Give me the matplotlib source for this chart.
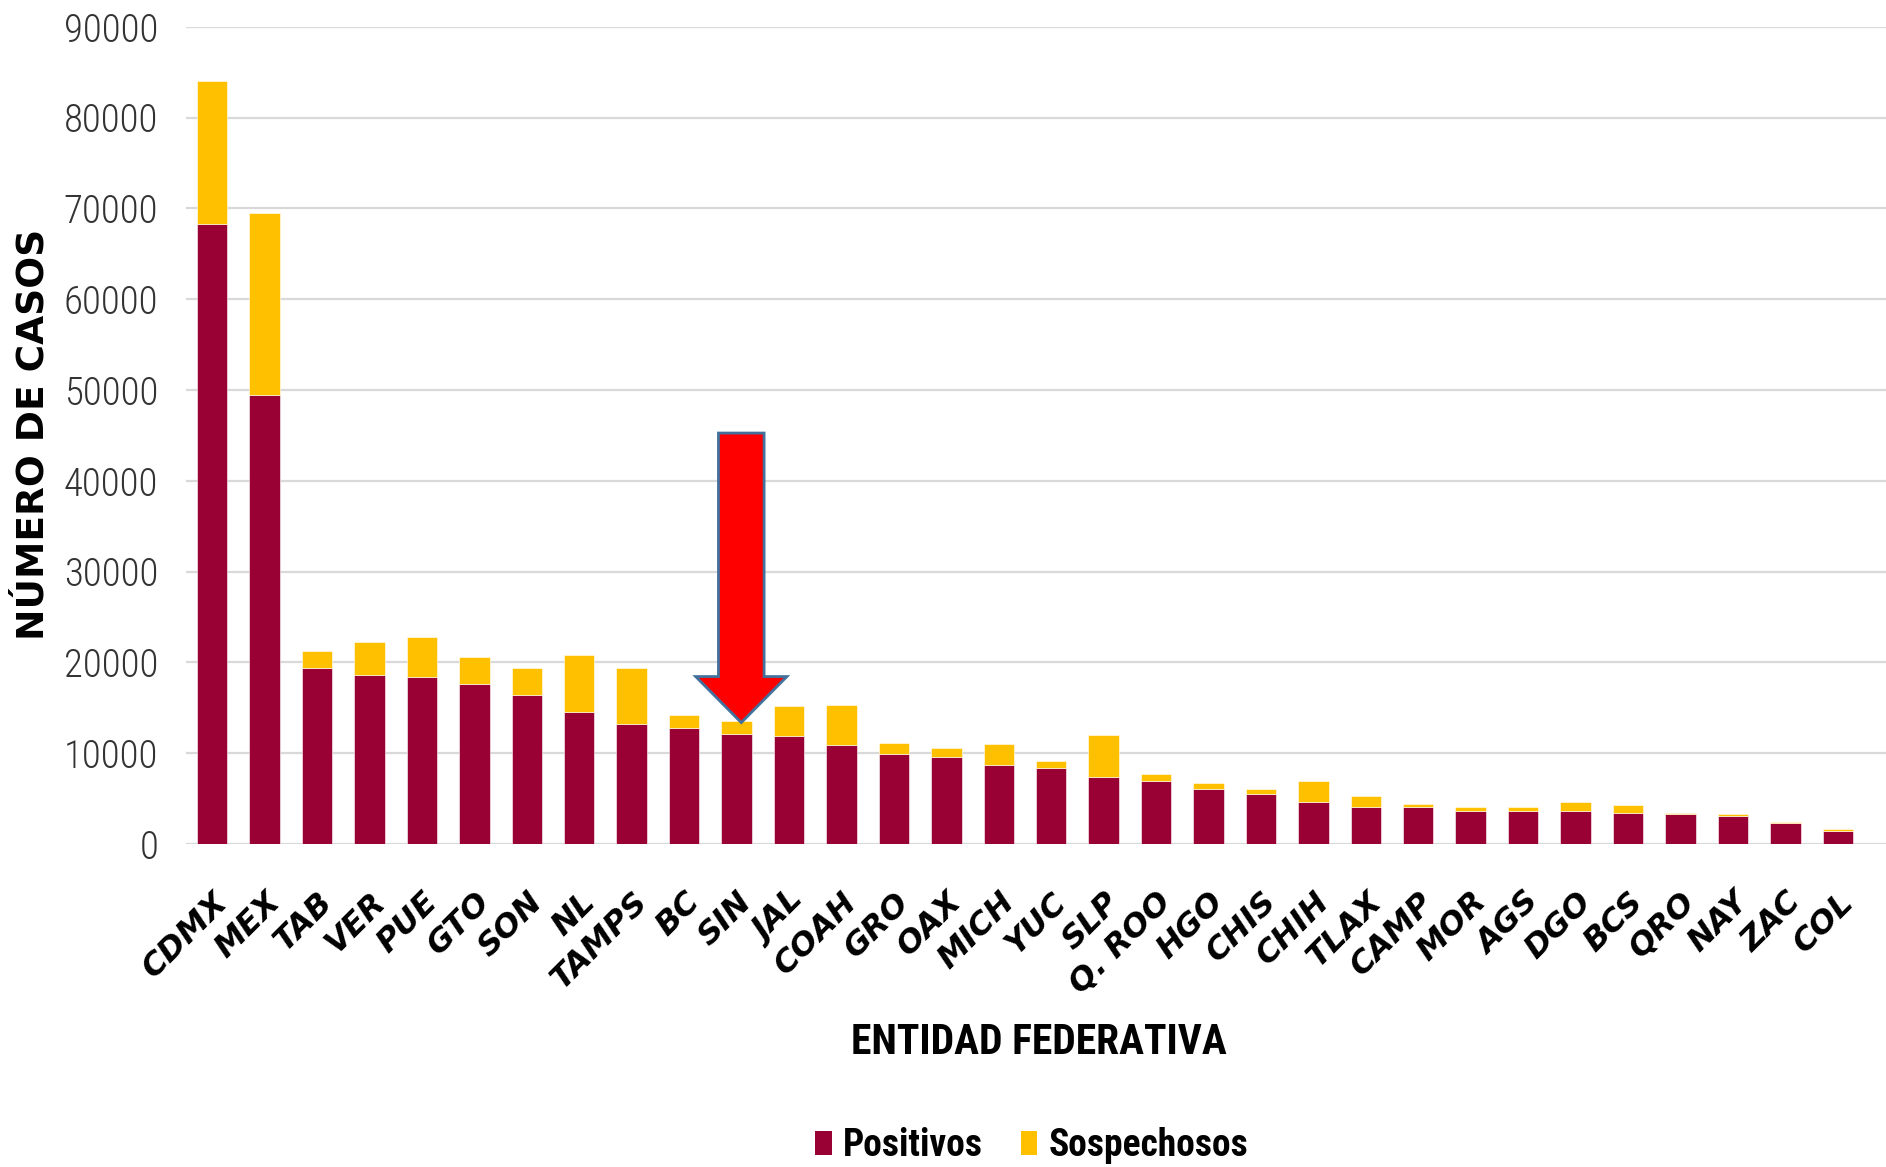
import matplotlib
matplotlib.use("Agg")
import matplotlib.pyplot as plt
from matplotlib.patches import FancyArrow, Patch
from matplotlib.transforms import ScaledTranslation
import numpy as np

# data
estados = ["CDMX", "MEX", "TAB", "VER", "PUE", "GTO", "SON", "NL", "TAMPS", "BC",
           "SIN", "JAL", "COAH", "GRO", "OAX", "MICH", "YUC", "SLP", "Q. ROO", "HGO",
           "CHIS", "CHIH", "TLAX", "CAMP", "MOR", "AGS", "DGO", "BCS", "QRO", "NAY",
           "ZAC", "COL"]
positivos = [68290, 49450, 19430, 18620, 18440, 17590, 16380, 14580, 13180, 12740,
             12160, 11900, 10940, 9950, 9560, 8740, 8330, 7330, 6930, 6070,
             5480, 4630, 4070, 4070, 3670, 3670, 3670, 3440, 3260, 3040,
             2260, 1410]
sospechosos = [15790, 20040, 1800, 3600, 4400, 3010, 3050, 6240, 6250, 1440,
               1390, 3270, 4410, 1210, 1000, 2220, 780, 4630, 770, 630,
               590, 2260, 1190, 370, 400, 400, 1000, 860, 180, 220,
               180, 220]
yticks = [0, 10000, 20000, 30000, 40000, 50000, 60000, 70000, 80000, 90000]
resaltado = "SIN"

GUINDA = "#990033"
AMARILLO = "#FFC000"
condensed = ["Roboto Condensed", "Liberation Sans Narrow", "DejaVu Sans"]

fig = plt.figure(figsize=(18.86, 11.67), dpi=100)
ax = fig.add_axes([0.0986, 0.2768, 0.9014, 0.7002])

x = np.arange(len(estados))
ax.bar(x, positivos, width=0.58, color=GUINDA, edgecolor="white", linewidth=0.4, zorder=3)
ax.bar(x, sospechosos, width=0.58, bottom=positivos, color=AMARILLO,
       edgecolor="white", linewidth=0.4, zorder=3)

ax.set_ylim(0, 90000)
ax.set_xlim(-0.5, len(estados) - 1 + 0.92)
ax.set_yticks(yticks)
ax.set_yticklabels([str(v) for v in yticks], fontsize=28, color="#333333",
                   family=condensed, fontweight="light")
ax.yaxis.grid(True, color="#D9D9D9", linewidth=1.6, zorder=0)
ax.tick_params(axis="y", length=0, pad=20)
ax.tick_params(axis="x", length=0, pad=6)
ax.set_xticks(x)
ax.set_xticklabels(estados, rotation=45, ha="right", va="center",
                   rotation_mode="anchor", fontsize=23, fontweight="bold",
                   fontstyle="italic", color="black")
shift = ScaledTranslation(11 / 100, 0, fig.dpi_scale_trans)
for lbl in ax.get_xticklabels():
    lbl.set_y(-0.055)
    lbl.set_transform(lbl.get_transform() + shift)
for s in ax.spines.values():
    s.set_visible(False)

# red arrow pointing at SIN
i = estados.index(resaltado)
tip = positivos[i] + sospechosos[i] - 180
arrow = FancyArrow(i + 0.09, 45260, 0, tip - 45260, width=0.87, head_width=1.74,
                   head_length=5070, length_includes_head=True,
                   facecolor="#FF0000", edgecolor="#41719C", linewidth=2, zorder=5)
ax.add_patch(arrow)

fig.text(0.018, 0.628, "NÚMERO DE CASOS", rotation=90, ha="center", va="center",
         fontsize=27, fontweight="bold", color="black")
fig.text(0.551, 0.107, "ENTIDAD FEDERATIVA", ha="center", va="center",
         fontsize=30, fontweight="bold", family=condensed, color="black")

handles = [Patch(facecolor=GUINDA, label="Positivos"),
           Patch(facecolor=AMARILLO, label="Sospechosos")]
fig.legend(handles=handles, loc="center", bbox_to_anchor=(0.547, 0.018), ncol=2,
           frameon=False, handlelength=0.45, handleheight=0.6, handletextpad=0.3,
           columnspacing=1.0, prop={"family": condensed, "weight": "bold", "size": 27})

fig.savefig("out.png", dpi=100)
